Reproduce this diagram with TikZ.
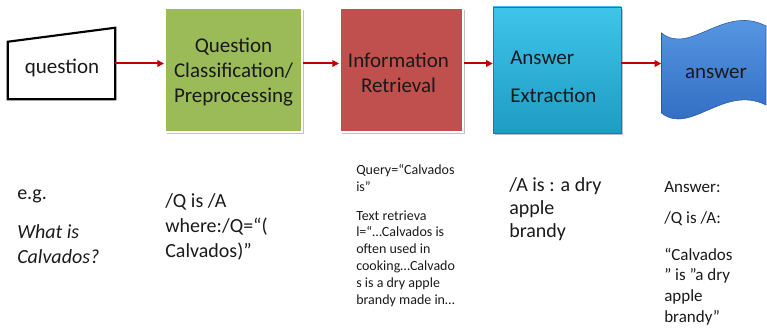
\documentclass[tikz,border=0pt]{standalone}
\usepackage{fontspec}
\setmainfont{Carlito}
\usetikzlibrary{arrows.meta,shadows}
\definecolor{flowred}{HTML}{C00000}
\definecolor{qcgreen}{HTML}{9BBB59}
\definecolor{irred}{HTML}{C0504D}
\definecolor{aetop}{HTML}{3FC4EA}
\definecolor{aebot}{HTML}{1E9CC4}
\definecolor{anstop}{HTML}{5C9CE6}
\definecolor{ansbot}{HTML}{2D68BE}
\definecolor{txt}{HTML}{1A1A1A}
\tikzset{
  flow/.style={draw=flowred, line width=1.5pt, -{Triangle[length=5pt,width=5pt]}},
  boxshadow/.style={drop shadow={shadow xshift=1.2pt, shadow yshift=-1.5pt, opacity=0.35, fill=black!70}},
  procbox/.style={draw=white, line width=1.5pt, minimum height=93pt, boxshadow,
     text=txt, align=center, font=\fontsize{15.75}{19}\selectfont, inner sep=0pt},
  boxtext/.style={text=txt, align=center, inner sep=0pt, font=\fontsize{15.75}{19}\selectfont},
  bigtext/.style={anchor=base west, align=left, text=txt, inner sep=0pt, font=\fontsize{15}{18.75}\selectfont},
  midtext/.style={anchor=base west, align=left, text=txt, inner sep=0pt, font=\fontsize{12.75}{15.4}\selectfont},
  smalltext/.style={anchor=base west, align=left, text=txt, inner sep=0pt, font=\fontsize{10.5}{12.6}\selectfont},
}
\begin{document}
\begin{tikzpicture}[x=0.75pt,y=-0.75pt]
\useasboundingbox (0,0) rectangle (767,328);

% question (manual input)
\node[minimum width=80.25pt, minimum height=53.25pt, inner sep=0pt] (q) at (61.5,63.5) {};
\draw[line width=1.6pt, line join=miter]
  (q.south west) -- ([yshift=-10.5pt]q.north west) -- (q.north east) -- (q.south east) -- cycle;
\node[boxtext] (qt) at (62,68) {question};

% process boxes
\node[procbox, fill=qcgreen, minimum width=102.75pt] (qc) at (233.5,70) {};
\node[boxtext] (qct) at (233.5,72) {Question\\Classification/\\Preprocessing};
\node[procbox, fill=irred, minimum width=92.25pt] (ir) at (401.5,70) {};
\node[boxtext] (irt) at (398.5,73) {Information\\Retrieval};
\node[draw=aebot!80!black, line width=0.5pt, top color=aetop, bottom color=aebot,
      minimum width=96pt, minimum height=94.5pt, boxshadow] (ae) at (557,70) {};
\node[bigtext, font=\fontsize{15.75}{28.5}\selectfont] (aet) at (510,103) {Answer\\Extraction};

% answer (wave / punched tape)
\node[minimum width=78.75pt, minimum height=70pt, inner sep=0pt] (ans) at (714,72) {};
\shade[top color=anstop, bottom color=ansbot, draw=ansbot!85!black, line width=0.4pt]
  (661.5,33) .. controls (690,56) and (724,4) .. (766,26)
  -- (766,105) .. controls (724,84) and (690,136) .. (661.5,113) -- cycle;
\node[boxtext] (anst) at (716,73) {answer};

% connectors
\draw[flow] (q.east) -- (qc.west |- q.east);
\draw[flow] (qc.east |- q.east) -- (ir.west |- q.east);
\draw[flow] (ir.east |- q.east) -- (ae.west |- q.east);
\draw[flow] (ae.east |- q.east) -- (ans.west |- q.east);

% example texts (anchored at the last line's baseline)
\node[bigtext] (t1) at (17,263) {e.g.\\[10pt]\textit{What is}\\\textit{Calvados?}};
\node[bigtext] (t2) at (165,257) {/Q is /A\\where:/Q=“(\\Calvados)”};
\node[smalltext] (t3) at (356,304) {Query=“Calvados\\is”\\[9pt]Text retrieva\\l=“…Calvados is\\often used in\\cooking…Calvado\\s is a dry apple\\brandy made in…};
\node[bigtext, font=\fontsize{15}{17.25}\selectfont] (t4) at (509,237) {/A is : a dry\\apple\\brandy};
\node[midtext] (t5) at (664,322) {Answer:\\[8pt]/Q is /A:\\[12pt]“Calvados\\” is ”a dry\\apple\\brandy”};
\end{tikzpicture}
\end{document}
